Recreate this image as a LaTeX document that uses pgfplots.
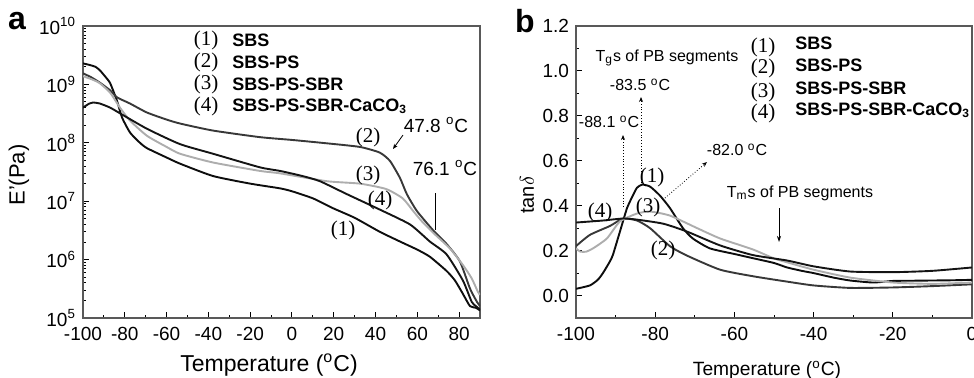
\documentclass[border=0pt]{standalone}
\usepackage{pgfplots}
\pgfplotsset{compat=1.18}
\usepackage{fontspec}
\setmainfont{Liberation Sans}
\newfontfamily\serif{Liberation Serif}
\usetikzlibrary{arrows.meta}
\definecolor{cA}{gray}{0.05}
\definecolor{cB}{gray}{0.22}
\definecolor{cC}{gray}{0.68}
\definecolor{cD}{gray}{0.08}
\definecolor{frame}{gray}{0.35}
\pgfplotsset{
  mystyle/.style={
    scale only axis,
    tick align=inside,
    xtick pos=bottom, ytick pos=left,
    axis line style={line width=0.6pt, frame},
    major tick length=3pt, minor tick length=1.6pt,
    every tick/.style={black, line width=0.5pt},
    tick label style={font=\fontsize{9.5}{11}\selectfont, black},
    xticklabel style={yshift=-1pt},
    /pgf/number format/assume math mode=true,
    clip=true,
  },
  curve/.style={line width=0.95pt, smooth, tension=0.35},
}
\begin{document}
\begin{tikzpicture}
% ---------------- panel a ----------------
\begin{axis}[mystyle,
  at={(41.5pt,29.5pt)}, anchor=south west,
  width=198.5pt, height=146pt,
  ymode=log, xmin=-100, xmax=90, ymin=1e5, ymax=1e10,
  xtick={-100,-80,-60,-40,-20,0,20,40,60,80},
  minor x tick num=1,
  ytick={1e5,1e6,1e7,1e8,1e9,1e10},
  yticklabels={10\textsuperscript{5},10\textsuperscript{6},10\textsuperscript{7},10\textsuperscript{8},10\textsuperscript{9},10\textsuperscript{10}},
  minor ytick={2e5,3e5,4e5,5e5,6e5,7e5,8e5,9e5,2e6,3e6,4e6,5e6,6e6,7e6,8e6,9e6,2e7,3e7,4e7,5e7,6e7,7e7,8e7,9e7,2e8,3e8,4e8,5e8,6e8,7e8,8e8,9e8,2e9,3e9,4e9,5e9,6e9,7e9,8e9,9e9},
]
% (1) SBS
\addplot[curve, cA] table {
x y
-100 2.29e9
-96.6 2.14e9
-94 2.0e9
-91.9 1.74e9
-89.5 1.38e9
-87 1.05e9
-83.7 5.2e8
-81.3 2.7e8
-77.5 1.5e8
-73 1.02e8
-69.4 8.1e7
-60 5.6e7
-53.6 4.4e7
-37.8 2.7e7
-20 2.0e7
-5.7 1.66e7
0 1.48e7
10 1.12e7
19.6 7.6e6
30 5.2e6
42 3.0e6
51.7 2.04e6
60 1.48e6
66 1.12e6
74 6.4e5
78 4.4e5
81.8 2.6e5
85.2 1.6e5
88 1.5e5
90 1.35e5
};
% (2) SBS-PS
\addplot[curve, cB] table {
x y
-100 1.55e9
-96 1.32e9
-91.9 1.07e9
-87 7.9e8
-83.7 6.0e8
-77.5 4.7e8
-69.4 3.3e8
-60 2.5e8
-53.6 2.14e8
-37.8 1.62e8
-15.3 1.25e8
0 1.12e8
16.7 9.8e7
32.5 8.5e7
42 6.8e7
46.9 4.9e7
51.7 2.5e7
55 1.32e7
59.8 6.8e6
67.5 3.2e6
74.2 1.82e6
80.4 9.3e5
85.2 3.2e5
88.5 1.9e5
90 1.6e5
};
% (3) SBS-PS-SBR
\addplot[curve, cC] table {
x y
-100 1.38e9
-96 1.23e9
-92 1.05e9
-87 7.2e8
-82.3 4.0e8
-77.5 2.4e8
-69.4 1.32e8
-60 8.5e7
-53.6 6.5e7
-37.8 4.6e7
-15.3 3.3e7
-5.7 3.0e7
16.7 2.2e7
32.5 2.0e7
45 1.62e7
53 1.12e7
58 6.8e6
62 4.6e6
67.5 2.9e6
75.6 1.55e6
81.8 8.1e5
86 4.8e5
89 2.8e5
90 2.5e5
};
% (4) SBS-PS-SBR-CaCO3
\addplot[curve, cD] table {
x y
-100 4.0e8
-97 4.7e8
-95.2 4.9e8
-91.9 4.7e8
-87 4.0e8
-82.3 3.2e8
-69.4 1.74e8
-53.6 9.5e7
-37.8 6.5e7
-15.3 3.8e7
-5.7 3.3e7
5 2.7e7
13.4 2.2e7
26.3 1.32e7
42 7.2e6
56.5 4.0e6
66 2.04e6
74 1.23e6
81.8 4.4e5
86 1.9e5
88 1.6e5
90 1.4e5
};
\end{axis}
% ---------------- panel b ----------------
\begin{axis}[mystyle,
  at={(288pt,29.5pt)}, anchor=south west,
  width=198pt, height=146pt,
  xmin=-100, xmax=0, ymin=-0.1, ymax=1.2,
  xtick={-100,-80,-60,-40,-20,0},
  minor x tick num=1,
  ytick={0,0.2,0.4,0.6,0.8,1.0,1.2},
  minor y tick num=1,
  yticklabel style={/pgf/number format/fixed, /pgf/number format/precision=1, /pgf/number format/fixed zerofill},
]
% (1) SBS
\addplot[curve, cA] table {
x y
-100 0.03
-96.5 0.045
-94.5 0.07
-93.2 0.10
-91.5 0.15
-90.7 0.18
-88.9 0.285
-87.1 0.39
-85.5 0.45
-84.6 0.48
-83.3 0.494
-81.3 0.485
-78.8 0.445
-76.3 0.39
-73 0.30
-70.5 0.254
-66.2 0.21
-60 0.185
-55 0.165
-50 0.145
-46.7 0.125
-43 0.11
-40 0.10
-35 0.08
-30.8 0.067
-25 0.058
-20 0.065
-15 0.066
-10 0.067
-5 0.068
0 0.07
};
% (2) SBS-PS
\addplot[curve, cB] table {
x y
-100 0.22
-96.5 0.27
-91.4 0.31
-88.1 0.343
-84.6 0.334
-81.3 0.30
-76.3 0.22
-72 0.178
-63.6 0.115
-55 0.085
-46.7 0.062
-40 0.045
-30.8 0.034
-20 0.036
-10 0.042
0 0.05
};
% (3) SBS-PS-SBR
\addplot[curve, cC] table {
x y
-100 0.21
-99 0.196
-97.5 0.195
-95.7 0.21
-92.2 0.254
-88.9 0.33
-84.6 0.365
-81.3 0.374
-76.3 0.356
-69.4 0.30
-63.6 0.254
-55.3 0.205
-50 0.165
-46.7 0.148
-40 0.115
-30.8 0.08
-20 0.058
-10 0.052
0 0.058
};
% (4) SBS-PS-SBR-CaCO3
\addplot[curve, cD] table {
x y
-100 0.325
-93.2 0.334
-88.1 0.343
-84.6 0.338
-78 0.32
-72 0.285
-63.6 0.223
-55.3 0.18
-46.7 0.156
-40 0.13
-30.8 0.107
-20 0.104
-10 0.11
0 0.125
};
\end{axis}
% ---------------- annotations ----------------
\node[font=\fontsize{16}{16}\bfseries\selectfont] at (8.5pt,178pt) {a};
\node[font=\fontsize{16}{16}\bfseries\selectfont] at (262.5pt,178pt) {b};
\node[rotate=90, font=\fontsize{11}{12}\selectfont] at (9.5pt,101pt) {E'(Pa)};
\node[rotate=90, font=\fontsize{10}{12}\selectfont] at (263.5pt,91pt) {tan$\delta$};
\node[font=\fontsize{11.5}{13}\selectfont] at (134.5pt,6pt) {Temperature (\textsuperscript{o}C)};
\node[font=\fontsize{9.6}{12}\selectfont] at (383.5pt,3.5pt) {Temperature (\textsuperscript{o}C)};
% legend a
\foreach \n/\t/\yy in {1/SBS/168.5, 2/SBS-PS/157.5, 3/SBS-PS-SBR/146.5, 4/SBS-PS-SBR-CaCO\textsubscript{3}/135.5}{
  \node[font=\fontsize{10.5}{12}\serif\selectfont] at (103pt,\yy pt) {(\n)};
  \node[anchor=west, inner sep=0pt, font=\fontsize{9}{11}\bfseries\selectfont] at (116pt,\yy pt) {\t};
}
% legend b
\foreach \n/\yy in {1/165, 2/154.5, 3/142.5, 4/132}{
  \node[font=\fontsize{10.5}{12}\serif\selectfont] at (381.5pt,\yy pt) {(\n)};
}
\foreach \t/\yy in {SBS/167, SBS-PS/156, SBS-PS-SBR/144.5, SBS-PS-SBR-CaCO\textsubscript{3}/133.5}{
  \node[anchor=west, inner sep=0pt, font=\fontsize{9}{11}\bfseries\selectfont] at (397.5pt,\yy pt) {\t};
}
% curve labels
\begin{scope}[every node/.style={font=\fontsize{10.5}{12}\serif\selectfont}]
\node at (184pt,120pt) {(2)};
\node at (184pt,101pt) {(3)};
\node at (190pt,88.5pt) {(4)};
\node at (171.5pt,73.5pt) {(1)};
\node at (326pt,100pt) {(1)};
\node at (324pt,85pt) {(3)};
\node at (300pt,82.5pt) {(4)};
\node at (331.5pt,63.5pt) {(2)};
\end{scope}
\node[font=\fontsize{9.5}{11}\selectfont] at (218pt,126pt) {47.8 \textsuperscript{o}C};
\draw[line width=0.4pt, -{Stealth[length=2.5pt,width=2pt]}] (201.5pt,121pt) -- (196.5pt,114pt);
\node[font=\fontsize{9.5}{11}\selectfont] at (222.5pt,104.5pt) {76.1 \textsuperscript{o}C};
\draw[line width=0.4pt] (217.5pt,92pt) -- (217.5pt,73.5pt);
\begin{scope}[every node/.style={font=\fontsize{8}{10}\selectfont}]
\node at (333.5pt,159.5pt) {T\textsubscript{g}s of PB segments};
\node at (320pt,146pt) {-83.5 \textsuperscript{o}C};
\node at (304.5pt,127.5pt) {-88.1 \textsuperscript{o}C};
\node at (368.5pt,113.5pt) {-82.0 \textsuperscript{o}C};
\node at (400pt,92pt) {T\textsubscript{m}s of PB segments};
\end{scope}
\draw[densely dotted, line width=0.4pt, -{Stealth[length=2.5pt,width=2pt]}] (320.5pt,97pt) -- (320.5pt,140pt);
\draw[densely dotted, line width=0.4pt, -{Stealth[length=2.5pt,width=2pt]}] (311.5pt,85pt) -- (311.5pt,121pt);
\draw[densely dotted, line width=0.4pt, -{Stealth[length=2.5pt,width=2pt]}] (332.5pt,89.5pt) -- (353.5pt,107.5pt);
\draw[line width=0.4pt, -{Stealth[length=3pt,width=2pt]}] (389.5pt,84.5pt) -- (389.5pt,67.5pt);
\pgfresetboundingbox
\path (0pt,0pt) rectangle (487pt,188.5pt);
\end{tikzpicture}
\end{document}
